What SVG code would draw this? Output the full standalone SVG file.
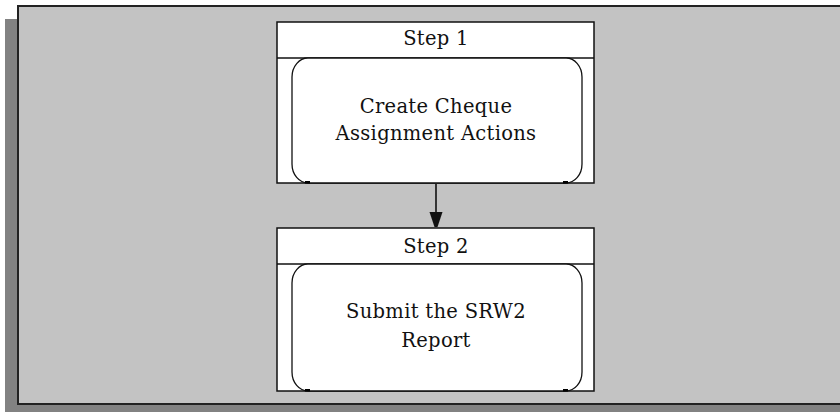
<svg xmlns="http://www.w3.org/2000/svg" width="840" height="412" viewBox="0 0 840 412">
<defs>
<style>
.frame{fill:#c3c3c3;stroke:#222;stroke-width:2}
.box{fill:#fff;stroke:#111;stroke-width:1.5}
.inner{fill:#fff;stroke:#111;stroke-width:1.3}
.t{font-family:"DejaVu Serif","Liberation Serif",serif;font-size:19.5px;letter-spacing:0.3px;fill:#111;text-anchor:middle}
.dot{fill:#000}
.conn{stroke:#111;stroke-width:1.6;fill:none}
.head{fill:#111}
</style>
</defs>
<rect x="0" y="0" width="840" height="412" fill="#fff"/>
<rect x="5" y="19" width="840" height="400" fill="#828282"/>
<rect class="frame" x="18" y="6" width="830" height="398"/>
<g id="step1">
<rect class="box" x="277" y="22" width="317" height="161"/>
<line x1="277" y1="58" x2="594" y2="58" stroke="#111" stroke-width="1.5"/>
<path class="inner" d="M308,58 L566,58 A16,19 0 0 1 582,77 L582,164 A16,19 0 0 1 566,183 L308,183 A16,19 0 0 1 292,164 L292,77 A16,19 0 0 1 308,58 Z"/>
<rect class="dot" x="305" y="181" width="5" height="2.5"/>
<rect class="dot" x="563" y="181" width="5" height="2.5"/>
<text class="t" x="436" y="45">Step 1</text>
<text class="t" x="436" y="113">Create Cheque</text>
<text class="t" x="436" y="140">Assignment Actions</text>
</g>
<g id="step2">
<rect class="box" x="277" y="228" width="317" height="163"/>
<line x1="277" y1="264" x2="594" y2="264" stroke="#111" stroke-width="1.5"/>
<path class="inner" d="M308,264 L566,264 A16,19 0 0 1 582,283 L582,372 A16,19 0 0 1 566,391 L308,391 A16,19 0 0 1 292,372 L292,283 A16,19 0 0 1 308,264 Z"/>
<rect class="dot" x="305" y="389" width="5" height="2.5"/>
<rect class="dot" x="563" y="389" width="5" height="2.5"/>
<text class="t" x="436" y="253">Step 2</text>
<text class="t" x="436" y="318">Submit the SRW2</text>
<text class="t" x="436" y="347">Report</text>
</g>
<g id="connectors">
<line class="conn" x1="436" y1="184" x2="436" y2="214"/>
<path class="head" d="M429.5,212 L442.5,212 L437.5,227 L434.5,227 Z"/>
</g>
</svg>
